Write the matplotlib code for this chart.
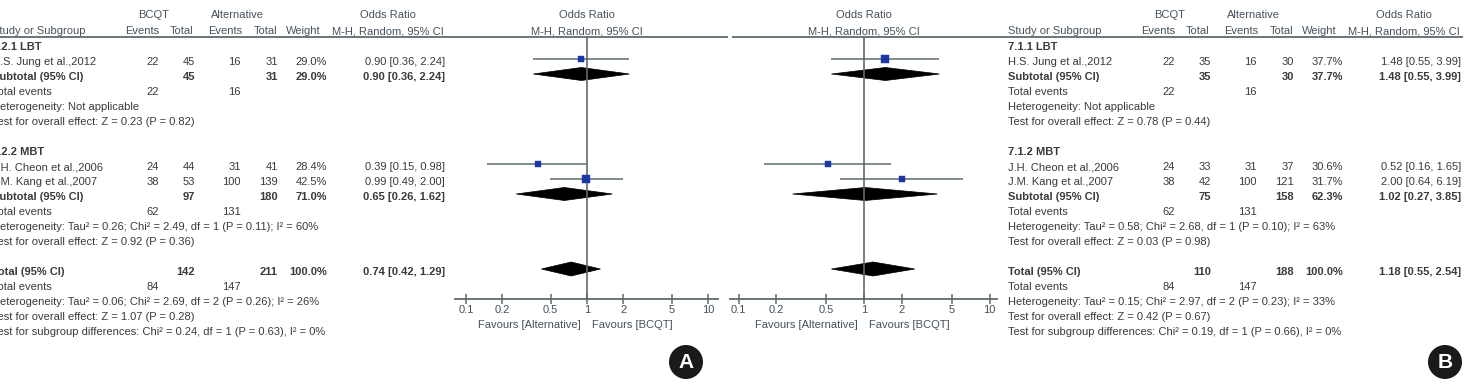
import matplotlib
matplotlib.use("Agg")
import matplotlib.pyplot as plt
from matplotlib.patches import Polygon, Circle
from matplotlib.ticker import FixedLocator, FixedFormatter, NullLocator

# ---------------- data ----------------
ticks = [0.1, 0.2, 0.5, 1, 2, 5, 10]
tick_labels = ["0.1", "0.2", "0.5", "1", "2", "5", "10"]

# Panel A
A_study = ["H.S. Jung et al.,2012", "J.H. Cheon et al.,2006", "J.M. Kang et al.,2007"]
A_group = [0, 1, 1]
A_bcqt_events = [22, 24, 38]
A_bcqt_total = [45, 44, 53]
A_alt_events = [16, 31, 100]
A_alt_total = [31, 41, 139]
A_weight = [29.0, 28.4, 42.5]
A_or = [0.90, 0.39, 0.99]
A_lo = [0.36, 0.15, 0.49]
A_hi = [2.24, 0.98, 2.00]

A_sub_name = ["7.2.1 LBT", "7.2.2 MBT"]
A_sub_bcqt_total = [45, 97]
A_sub_alt_total = [31, 180]
A_sub_weight = [29.0, 71.0]
A_sub_or = [0.90, 0.65]
A_sub_lo = [0.36, 0.26]
A_sub_hi = [2.24, 1.62]
A_sub_bcqt_events = [22, 62]
A_sub_alt_events = [16, 131]
A_sub_het = ["Heterogeneity: Not applicable",
             "Heterogeneity: Tau² = 0.26; Chi² = 2.49, df = 1 (P = 0.11); I² = 60%"]
A_sub_test = ["Test for overall effect: Z = 0.23 (P = 0.82)",
              "Test for overall effect: Z = 0.92 (P = 0.36)"]
A_tot = dict(bcqt_total=142, alt_total=211, weight=100.0, or_=0.74, lo=0.42, hi=1.29,
             bcqt_events=84, alt_events=147,
             het="Heterogeneity: Tau² = 0.06; Chi² = 2.69, df = 2 (P = 0.26); I² = 26%",
             test="Test for overall effect: Z = 1.07 (P = 0.28)",
             diff="Test for subgroup differences: Chi² = 0.24, df = 1 (P = 0.63), I² = 0%")

# Panel B
B_study = ["H.S. Jung et al.,2012", "J.H. Cheon et al.,2006", "J.M. Kang et al.,2007"]
B_group = [0, 1, 1]
B_bcqt_events = [22, 24, 38]
B_bcqt_total = [35, 33, 42]
B_alt_events = [16, 31, 100]
B_alt_total = [30, 37, 121]
B_weight = [37.7, 30.6, 31.7]
B_or = [1.48, 0.52, 2.00]
B_lo = [0.55, 0.16, 0.64]
B_hi = [3.99, 1.65, 6.19]

B_sub_name = ["7.1.1 LBT", "7.1.2 MBT"]
B_sub_bcqt_total = [35, 75]
B_sub_alt_total = [30, 158]
B_sub_weight = [37.7, 62.3]
B_sub_or = [1.48, 1.02]
B_sub_lo = [0.55, 0.27]
B_sub_hi = [3.99, 3.85]
B_sub_bcqt_events = [22, 62]
B_sub_alt_events = [16, 131]
B_sub_het = ["Heterogeneity: Not applicable",
             "Heterogeneity: Tau² = 0.58; Chi² = 2.68, df = 1 (P = 0.10); I² = 63%"]
B_sub_test = ["Test for overall effect: Z = 0.78 (P = 0.44)",
              "Test for overall effect: Z = 0.03 (P = 0.98)"]
B_tot = dict(bcqt_total=110, alt_total=188, weight=100.0, or_=1.18, lo=0.55, hi=2.54,
             bcqt_events=84, alt_events=147,
             het="Heterogeneity: Tau² = 0.15; Chi² = 2.97, df = 2 (P = 0.23); I² = 33%",
             test="Test for overall effect: Z = 0.42 (P = 0.67)",
             diff="Test for subgroup differences: Chi² = 0.19, df = 1 (P = 0.66), I² = 0%")

# ---------------- style / layout ----------------
W, H = 1469, 387
FONT = "Liberation Sans"
FS = 8.0
TXT = "#3a3a3a"
HDR = "#46525c"
LINE = "#5f6b6b"
BLUE = "#1c36a6"
ROW0, STEP = 47, 15
MARK_DY = -3
AXIS_Y = 299
HEAD_LINE_Y = 36.5

plt.rcParams["font.family"] = [FONT, "DejaVu Sans"]
fig = plt.figure(figsize=(W / 100, H / 100), dpi=100)
cv = fig.add_axes([0, 0, 1, 1])
cv.set_xlim(0, W)
cv.set_ylim(H, 0)
cv.axis("off")


def T(x, y, s, ha="left", bold=False, color=TXT, va="center"):
    cv.text(x, y, s, ha=ha, va=va, fontsize=FS, color=color,
            fontweight="bold" if bold else "normal", clip_on=False)


def fmt_or(o, l, h):
    return f"{o:.2f} [{l:.2f}, {h:.2f}]"


def draw_panel(o, line_x0, line_x1, c, d, ax_l, ax_r, letter,
               study, group, be, bt, ae, at, wt, orr, lo, hi,
               sname, sbt, sat, swt, sor, slo, shi, sbe, sae, shet, stest, tot):
    # column positions relative to origin o
    col_c = [o + 150, o + 190, o + 233, o + 274, o + 311, o + 396]
    col_r = [o + 167, o + 203, o + 249, o + 286, o + 335, o + 453]
    # group headers
    T(o + 162, 15, "BCQT", ha="center", color=HDR)
    T(o + 245, 15, "Alternative", ha="center", color=HDR)
    T(o + 396, 15, "Odds Ratio", ha="center", color=HDR)
    T(o, 34, "Study or Subgroup", color=HDR, va="baseline")
    for x, s in zip(col_c, ["Events", "Total", "Events", "Total", "Weight",
                            "M-H, Random, 95% CI"]):
        T(x, 34, s, ha="center", color=HDR, va="baseline")
    cv.plot([line_x0, line_x1], [HEAD_LINE_Y, HEAD_LINE_Y], color=LINE, lw=1.3,
            solid_capstyle="butt")

    # forest axis
    ax = fig.add_axes([ax_l / W, 0, (ax_r - ax_l) / W, 1])
    ax.set_xscale("log")
    ax.set_xlim(10 ** ((ax_l - c) / d), 10 ** ((ax_r - c) / d))
    ax.set_ylim(H, 0)
    ax.patch.set_visible(False)
    for s in ["left", "right", "top"]:
        ax.spines[s].set_visible(False)
    ax.spines["bottom"].set_position(("data", AXIS_Y))
    ax.spines["bottom"].set_color(LINE)
    ax.spines["bottom"].set_linewidth(1.3)
    ax.set_yticks([])
    ax.xaxis.set_major_locator(FixedLocator(ticks))
    ax.xaxis.set_major_formatter(FixedFormatter(tick_labels))
    ax.xaxis.set_minor_locator(NullLocator())
    ax.tick_params(axis="x", direction="inout", length=7, width=1.1, color=LINE,
                   labelcolor=HDR, labelsize=FS, pad=1)
    ax.vlines(1, HEAD_LINE_Y, AXIS_Y, color=LINE, lw=1.2)
    T(c, 15, "Odds Ratio", ha="center", color=HDR)
    T(c, 34, "M-H, Random, 95% CI", ha="center", color=HDR, va="baseline")
    T(c - 6, 325, "Favours [Alternative]", ha="right", color=HDR)
    T(c + 5, 325, "Favours [BCQT]", ha="left", color=HDR)

    def diamond(y, o_, l_, h_, hh=6.5):
        ax.add_patch(Polygon([(l_, y), (o_, y - hh), (h_, y), (o_, y + hh)],
                             closed=True, facecolor="black", edgecolor="black", lw=0.5))

    k = 0
    for g in range(len(sname)):
        y = ROW0 + STEP * k
        T(o, y, sname[g], bold=True)
        k += 1
        for i in range(len(study)):
            if group[i] != g:
                continue
            y = ROW0 + STEP * k
            T(o, y, study[i])
            vals = [str(be[i]), str(bt[i]), str(ae[i]), str(at[i]), f"{wt[i]:.1f}%",
                    fmt_or(orr[i], lo[i], hi[i])]
            for x, s in zip(col_r, vals):
                T(x, y, s, ha="right")
            ym = y + MARK_DY
            ax.hlines(ym, lo[i], hi[i], color=LINE, lw=1.1)
            side = wt[i] * 0.21
            ax.plot([orr[i]], [ym], marker="s", ms=side * 0.72, color=BLUE, mec=BLUE,
                    mew=0.3)
            k += 1
        y = ROW0 + STEP * k
        T(o, y, "Subtotal (95% CI)", bold=True)
        T(col_r[1], y, str(sbt[g]), ha="right", bold=True)
        T(col_r[3], y, str(sat[g]), ha="right", bold=True)
        T(col_r[4], y, f"{swt[g]:.1f}%", ha="right", bold=True)
        T(col_r[5], y, fmt_or(sor[g], slo[g], shi[g]), ha="right", bold=True)
        diamond(y + MARK_DY, sor[g], slo[g], shi[g])
        k += 1
        y = ROW0 + STEP * k
        T(o, y, "Total events")
        T(col_r[0], y, str(sbe[g]), ha="right")
        T(col_r[2], y, str(sae[g]), ha="right")
        k += 1
        T(o, ROW0 + STEP * k, shet[g])
        k += 1
        T(o, ROW0 + STEP * k, stest[g])
        k += 2
    y = ROW0 + STEP * k
    T(o, y, "Total (95% CI)", bold=True)
    T(col_r[1], y, str(tot["bcqt_total"]), ha="right", bold=True)
    T(col_r[3], y, str(tot["alt_total"]), ha="right", bold=True)
    T(col_r[4], y, f"{tot['weight']:.1f}%", ha="right", bold=True)
    T(col_r[5], y, fmt_or(tot["or_"], tot["lo"], tot["hi"]), ha="right", bold=True)
    diamond(y + MARK_DY, tot["or_"], tot["lo"], tot["hi"], hh=7)
    k += 1
    y = ROW0 + STEP * k
    T(o, y, "Total events")
    T(col_r[0], y, str(tot["bcqt_events"]), ha="right")
    T(col_r[2], y, str(tot["alt_events"]), ha="right")
    k += 1
    T(o, ROW0 + STEP * k, tot["het"])
    k += 1
    T(o, ROW0 + STEP * k, tot["test"])
    k += 1
    T(o, ROW0 + STEP * k, tot["diff"])

    # panel letter
    cx, cy, s = letter
    cv.add_patch(Circle((cx, cy), 17, facecolor="#1a1a1a", edgecolor="none"))
    cv.text(cx, cy + 1, s, ha="center", va="center", color="white",
            fontsize=15, fontweight="bold", family=["Liberation Sans", "DejaVu Sans"])


draw_panel(-8, 0, 728, 587, 121.0, 455, 718, (686, 362, "A"),
           A_study, A_group, A_bcqt_events, A_bcqt_total, A_alt_events, A_alt_total,
           A_weight, A_or, A_lo, A_hi,
           A_sub_name, A_sub_bcqt_total, A_sub_alt_total, A_sub_weight, A_sub_or,
           A_sub_lo, A_sub_hi, A_sub_bcqt_events, A_sub_alt_events, A_sub_het,
           A_sub_test, A_tot)

draw_panel(1008, 732, 1463, 864, 125.5, 730, 997, (1445, 362, "B"),
           B_study, B_group, B_bcqt_events, B_bcqt_total, B_alt_events, B_alt_total,
           B_weight, B_or, B_lo, B_hi,
           B_sub_name, B_sub_bcqt_total, B_sub_alt_total, B_sub_weight, B_sub_or,
           B_sub_lo, B_sub_hi, B_sub_bcqt_events, B_sub_alt_events, B_sub_het,
           B_sub_test, B_tot)

fig.savefig("out.png", dpi=100)
